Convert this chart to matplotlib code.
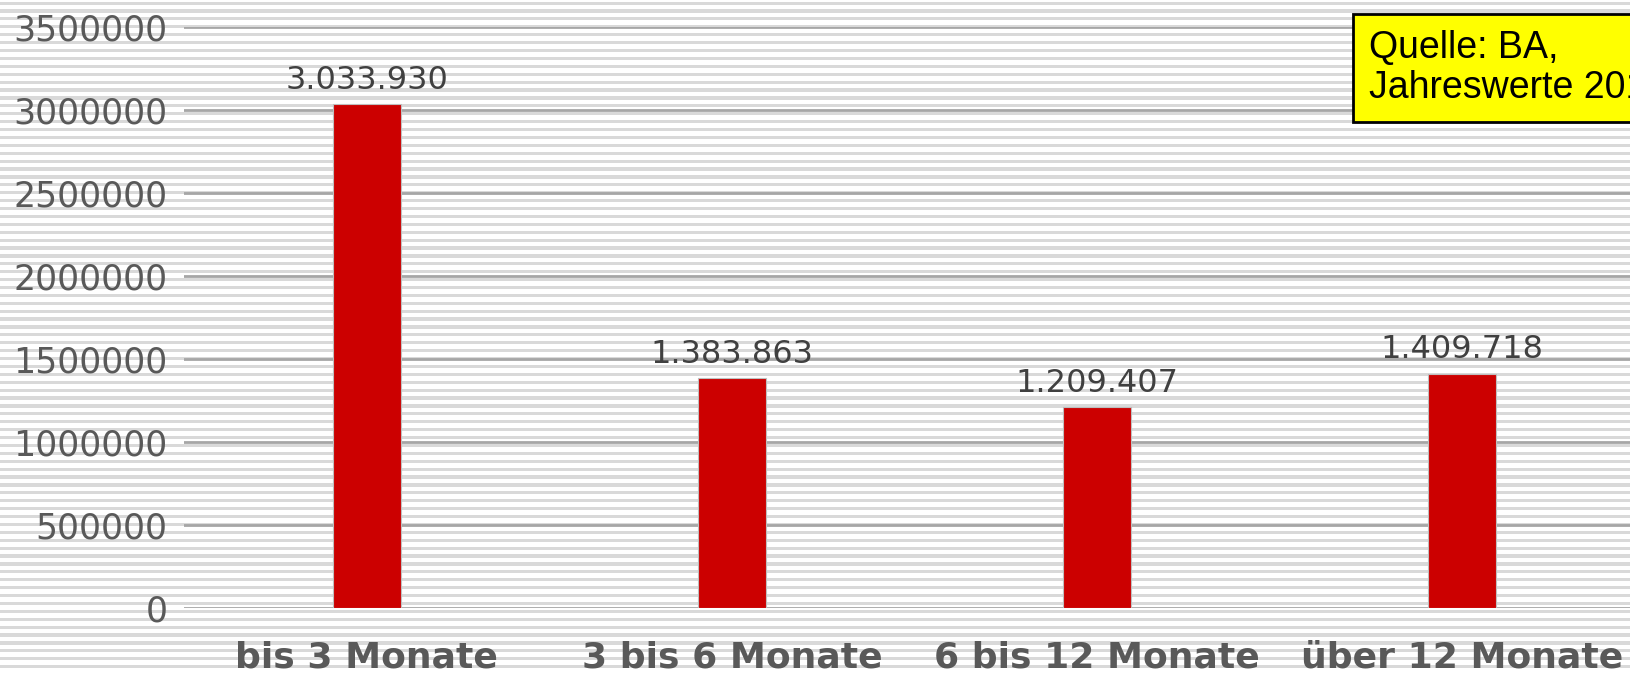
import matplotlib
matplotlib.use('Agg')
from matplotlib import pyplot as plt
from matplotlib.patches import Rectangle

categories = ['bis 3 Monate', '3 bis 6 Monate', '6 bis 12 Monate', 'über 12 Monate']
values = [3033930, 1383863, 1209407, 1409718]
value_labels = ['3.033.930', '1.383.863', '1.209.407', '1.409.718']
yticks = [0, 500000, 1000000, 1500000, 2000000, 2500000, 3000000, 3500000]

W, H = 1631, 673
fig = plt.figure(figsize=(W / 100, H / 100), dpi=100)
fig.patch.set_facecolor('white')

# striped background over the whole figure
bg = fig.add_axes([0, 0, 1, 1])
bg.set_xlim(0, W)
bg.set_ylim(H, 0)
bg.axis('off')
period = 7.9
y = 1.5
while y < H:
    bg.add_patch(Rectangle((0, y), W, 3.2, color='#d9d9d9', lw=0))
    y += period

ax = fig.add_axes([184 / W, (H - 607.5) / H, (1645 - 184) / W, (607.5 - 27) / H])
ax.patch.set_alpha(0)
ax.set_xlim(-0.5, 3.5)
ax.set_ylim(0, 3500000)
ax.set_yticks(yticks)
ax.set_yticklabels([str(v) for v in yticks])
ax.grid(axis='y', color='#a6a6a6', lw=2)
ax.set_axisbelow(True)
for s in ax.spines.values():
    s.set_visible(False)
ax.tick_params(axis='y', length=0, pad=12, labelsize=25, labelcolor='#595959')
ax.tick_params(axis='x', length=0, pad=24)

x = range(len(categories))
ax.bar(x, values, width=0.186, color='#cc0000', edgecolor='#bfbfbf', lw=0.8, zorder=3)
for xi, v, lab in zip(x, values, value_labels):
    ax.annotate(lab, (xi, v), xytext=(0, 6), textcoords='offset points',
                ha='center', va='bottom', fontsize=23, color='#404040')

ax.set_xticks(list(x))
ax.set_xticklabels(categories, fontsize=26, fontweight='bold', color='#595959')

# source note, cut off at the right edge as in the original slide
fig.text(1369 / W, 1 - 68 / H, 'Quelle: BA,\nJahreswerte 2017', family='Liberation Sans',
         fontsize=27, va='center', ha='left', linespacing=1.12,
         bbox=dict(boxstyle='square,pad=0.43', fc='#ffff00', ec='black', lw=2))

fig.savefig('out.png', dpi=100)
